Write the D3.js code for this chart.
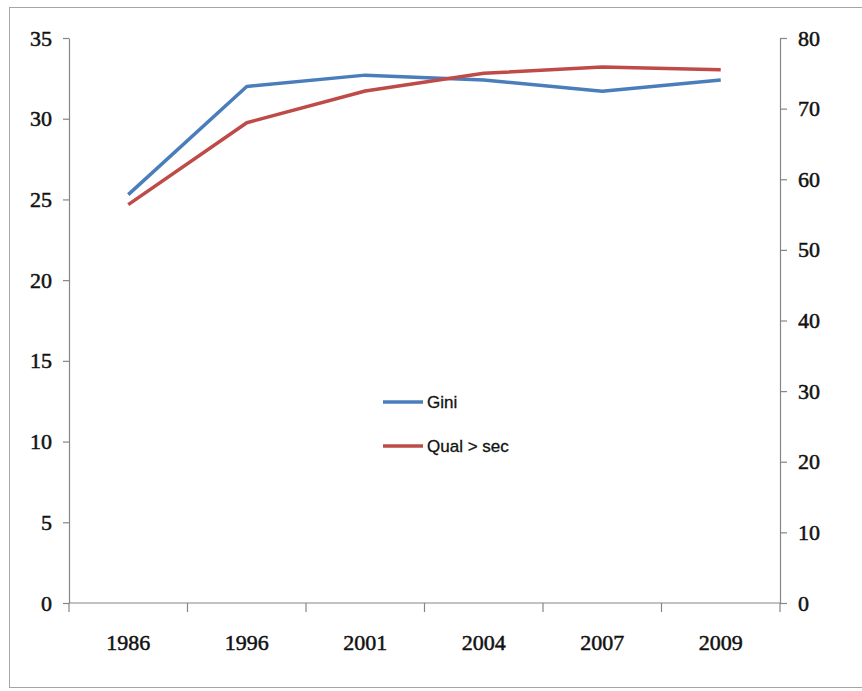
<!DOCTYPE html>
<html>
<head>
<meta charset="utf-8">
<script src="https://cdn.jsdelivr.net/npm/d3@7"></script>
<style>
  html, body { margin: 0; padding: 0; background: #fff; }
  svg { display: block; }
</style>
</head>
<body>
<svg id="chart" width="862" height="691"></svg>
<script>
const years = ["1986", "1996", "2001", "2004", "2007", "2009"];
const gini = [25.3, 32.0, 32.7, 32.4, 31.7, 32.4];
const qualSec = [56.4, 68.0, 72.5, 75.0, 75.9, 75.5];
const leftTicks = [0, 5, 10, 15, 20, 25, 30, 35];
const rightTicks = [0, 10, 20, 30, 40, 50, 60, 70, 80];
const seriesNames = ["Gini", "Qual > sec"];

(function () {
const svg = d3.select("#chart");
const pL = 69, pR = 780, pT = 38, pB = 603;
const axisColor = "#868686";
const tickFont = "'Liberation Serif', 'Times New Roman', serif";

// outer border
svg.append("rect").attr("x", 9.5).attr("y", 7.5).attr("width", 860).attr("height", 680)
  .attr("fill", "#fff").attr("stroke", "#a6a6a6").attr("stroke-width", 1);

const x = d3.scaleBand().domain(years).range([pL, pR]).padding(0);
const yL = d3.scaleLinear().domain([0, 35]).range([pB, pT]);
const yR = d3.scaleLinear().domain([0, 80]).range([pB, pT]);

function styleText(sel) {
  sel.attr("font-family", tickFont).attr("font-size", 22)
    .attr("fill", "#111").attr("stroke", "#111").attr("stroke-width", 0.5);
}
function styleAxis(g) {
  g.selectAll("path, line").attr("stroke", axisColor).attr("stroke-width", 1.2);
  styleText(g.selectAll("text"));
}

// left axis
const gL = svg.append("g").attr("transform", `translate(${pL},0)`)
  .call(d3.axisLeft(yL).tickValues(leftTicks).tickSize(6).tickSizeOuter(0).tickPadding(11));
styleAxis(gL);

// right axis
const gR = svg.append("g").attr("transform", `translate(${pR},0)`)
  .call(d3.axisRight(yR).tickValues(rightTicks).tickSize(7).tickSizeOuter(0).tickPadding(11));
styleAxis(gR);

// x axis with boundary ticks
const gX = svg.append("g").attr("transform", `translate(0,${pB})`);
gX.append("line").attr("x1", pL).attr("x2", pR).attr("y1", 0).attr("y2", 0)
  .attr("stroke", axisColor).attr("stroke-width", 1.2);
const bounds = years.map(d => x(d)).concat([x(years[years.length - 1]) + x.bandwidth()]);
gX.selectAll("line.tk").data(bounds).join("line").attr("class", "tk")
  .attr("x1", d => d).attr("x2", d => d).attr("y1", 0).attr("y2", 9)
  .attr("stroke", axisColor).attr("stroke-width", 1.2);
styleText(gX.selectAll("text").data(years).join("text")
  .attr("x", d => x(d) + x.bandwidth() / 2).attr("y", 47)
  .attr("text-anchor", "middle").text(d => d));

// lines
const cx = d => x(d) + x.bandwidth() / 2;
const lineL = d3.line().x((d, i) => cx(years[i])).y(d => yL(d));
const lineR = d3.line().x((d, i) => cx(years[i])).y(d => yR(d));
const colors = ["#4a7ebb", "#be4b48"];

svg.append("path").datum(gini).attr("d", lineL).attr("fill", "none")
  .attr("stroke", colors[0]).attr("stroke-width", 3.5).attr("stroke-linejoin", "round");
svg.append("path").datum(qualSec).attr("d", lineR).attr("fill", "none")
  .attr("stroke", colors[1]).attr("stroke-width", 3.5).attr("stroke-linejoin", "round");

// legend
const legend = svg.append("g").attr("transform", "translate(383,402)");
seriesNames.forEach((name, i) => {
  const g = legend.append("g").attr("transform", `translate(0,${i * 44})`);
  g.append("line").attr("x1", 0).attr("x2", 40).attr("y1", 0).attr("y2", 0)
    .attr("stroke", colors[i]).attr("stroke-width", 3.5);
  g.append("text").attr("x", 44).attr("y", 6)
    .attr("font-family", "'Liberation Sans', Arial, sans-serif").attr("font-size", 17)
    .attr("fill", "#111").attr("stroke", "#111").attr("stroke-width", 0.3).text(name);
});
})();
</script>
</body>
</html>
